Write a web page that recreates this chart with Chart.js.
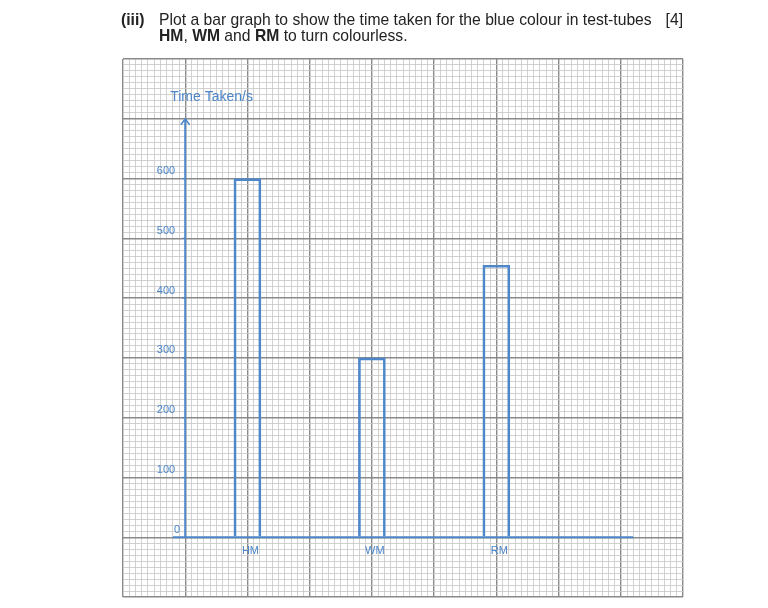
<!DOCTYPE html>
<html>
<head>
<meta charset="utf-8">
<script src="https://cdn.jsdelivr.net/npm/chart.js@4.4.1/dist/chart.umd.min.js"></script>
<style>
  body { margin: 0; background: #fff; }
  #wrap { position: relative; width: 768px; height: 608px; }
  canvas { position: absolute; left: 0; top: 0; }
  .q { position: absolute; font-family: "Liberation Sans", Arial, sans-serif; font-size: 15.7px; line-height: 16px; color: #222; white-space: nowrap; }
</style>
</head>
<body>
<div id="wrap">
  <canvas id="barChart" width="768" height="608"></canvas>
  <div class="q" style="left:121px;top:12px;font-weight:bold">(iii)</div>
  <div class="q" style="left:159px;top:12px">Plot a bar graph to show the time taken for the blue colour in test-tubes<br><b>HM</b>, <b>WM</b> and <b>RM</b> to turn colourless.</div>
  <div class="q" style="right:85px;top:12px">[4]</div>
</div>
<script>
// data
var tubes       = ['HM', 'WM', 'RM']
var timeTaken   = [600, 300, 455]          // seconds
var tubeX       = [20, 40, 60]             // position along the paper, in small squares
var yTickLabels = [0, 100, 200, 300, 400, 500, 600]
var axisTitle   = 'Time Taken/s'

var pen = '#4d87c9'

// graph paper: thin grey every small square, darker every 10
function paperColour(major) {
  return function (c) {
    if (!c.tick) return '#c6c6c6'
    return Math.round(c.tick.value) % major === 0 ? '#8a8a8a' : '#c6c6c6'
  }
}
function paperWidth(major) {
  return function (c) {
    if (!c.tick) return 1
    return Math.round(c.tick.value) % major === 0 ? 1.4 : 0.8
  }
}

// hand written labels
var penLabels = {
  id: 'penLabels',
  afterDatasetsDraw: function (chart) {
    var ctx = chart.ctx
    var xs = chart.scales.x
    var ys = chart.scales.y
    var ax = xs.getPixelForValue(10)
    ctx.save()
    ctx.fillStyle = pen
    ctx.strokeStyle = pen
    ctx.lineWidth = 1.2
    ctx.font = '11px "Liberation Sans"'
    ctx.textAlign = 'right'
    ctx.textBaseline = 'bottom'
    yTickLabels.forEach(function (v) {
      var py = ys.getPixelForValue(v)
      ctx.fillText(String(v), ax - (v === 0 ? 5 : 10), py - 2)
      if (v > 0) {
        ctx.beginPath()
        ctx.moveTo(ax - 3, py)
        ctx.lineTo(ax, py)
        ctx.stroke()
      }
    })
    ctx.textAlign = 'center'
    ctx.textBaseline = 'middle'
    tubes.forEach(function (t, i) {
      ctx.fillText(t, xs.getPixelForValue(tubeX[i]) + 3, ys.getPixelForValue(0) + 14)
    })
    ctx.textAlign = 'left'
    ctx.font = '14px "Liberation Sans"'
    ctx.fillText(axisTitle, ax - 15, ys.getPixelForValue(700) - 22)
    ctx.restore()
  }
}

var barChartCanvas = document.getElementById('barChart').getContext('2d')

var barChart = new Chart(barChartCanvas, {
  type: 'bar',
  data: {
    datasets: [
      {
        label           : 'Time taken',
        data            : tubes.map(function (t, i) { return { x: tubeX[i], y: timeTaken[i] } }),
        backgroundColor : 'rgba(0,0,0,0)',
        borderColor     : pen,
        borderWidth     : 2,
        borderSkipped   : 'start',
        barThickness    : 27
      },
      {
        // y axis
        type        : 'line',
        data        : [{ x: 10, y: 0 }, { x: 10, y: 700 }],
        borderColor : pen,
        borderWidth : 2,
        pointRadius : 0
      },
      {
        // arrow head
        type        : 'line',
        data        : [{ x: 9.3, y: 690 }, { x: 10, y: 700 }, { x: 10.7, y: 690 }],
        borderColor : pen,
        borderWidth : 1.5,
        pointRadius : 0
      },
      {
        // x axis
        type        : 'line',
        data        : [{ x: 8, y: 0 }, { x: 82, y: 0 }],
        borderColor : pen,
        borderWidth : 2,
        pointRadius : 0
      }
    ]
  },
  options: {
    responsive : false,
    animation  : false,
    layout     : { padding: { left: 123, top: 59, right: 85, bottom: 11 } },
    plugins    : { legend: { display: false }, tooltip: { enabled: false } },
    scales: {
      x: {
        type   : 'linear',
        min    : 0,
        max    : 90,
        offset : false,
        ticks  : { display: false, stepSize: 1, maxTicksLimit: 1000 },
        grid   : { offset: false, drawTicks: false, color: paperColour(10), lineWidth: paperWidth(10) },
        border : { display: false }
      },
      y: {
        type   : 'linear',
        min    : -100,
        max    : 800,
        ticks  : { display: false, stepSize: 10, maxTicksLimit: 1000 },
        grid   : { drawTicks: false, color: paperColour(100), lineWidth: paperWidth(100) },
        border : { display: false }
      }
    }
  },
  plugins: [penLabels]
})
</script>
</body>
</html>
